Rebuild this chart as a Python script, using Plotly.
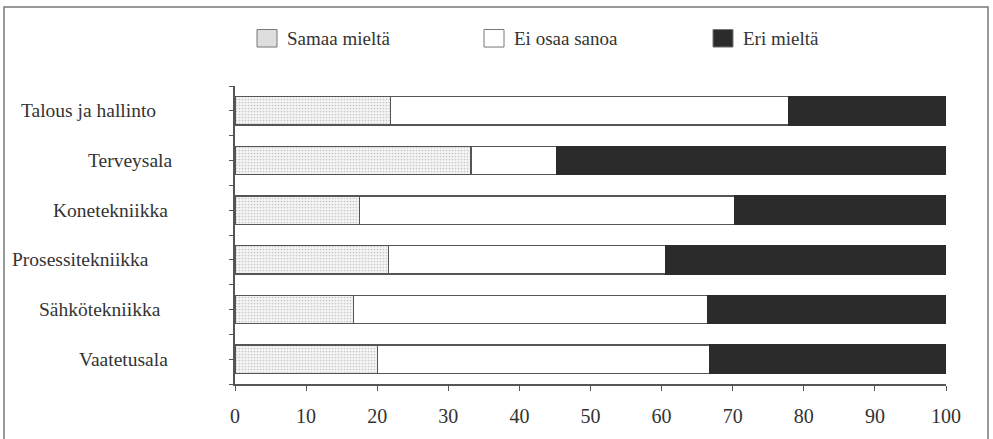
import plotly.graph_objects as go

categories = ["Talous ja hallinto", "Terveysala", "Konetekniikka",
              "Prosessitekniikka", "Sähkötekniikka", "Vaatetusala"]
samaa = [21.9, 33.2, 17.5, 21.6, 16.7, 20.0]
ei_osaa = [56.0, 12.1, 52.8, 39.0, 49.8, 46.7]
eri = [22.1, 54.7, 29.7, 39.4, 33.5, 33.3]
series_names = ["Samaa mieltä", "Ei osaa sanoa", "Eri mieltä"]
x_ticks = list(range(0, 101, 10))

W, H = 993, 439
ML, MR, MT, MB = 235, 47, 86, 47
PW, PH = W - ML - MR, H - MT - MB
FONT = "Liberation Serif"
TXT = "#333333"
EDGE = "#555555"

ypos = list(range(len(categories)))

fig = go.Figure()
fig.add_trace(go.Bar(
    y=ypos, x=samaa, orientation="h", name=series_names[0], width=0.57,
    marker=dict(color="#f4f4f4", line=dict(color=EDGE, width=1.3),
                pattern=dict(shape=".", fgcolor="#9a9a9a", bgcolor="#f4f4f4",
                             size=3, solidity=0.25)),
    showlegend=False))
fig.add_trace(go.Bar(
    y=ypos, x=ei_osaa, orientation="h", name=series_names[1], width=0.57,
    marker=dict(color="#ffffff", line=dict(color=EDGE, width=1.3)),
    showlegend=False))
fig.add_trace(go.Bar(
    y=ypos, x=eri, orientation="h", name=series_names[2], width=0.57,
    marker=dict(color="#2b2b2b", line=dict(color="#2b2b2b", width=1.3)),
    showlegend=False))

def px_to_paper_x(px):
    return (px - ML) / PW

def px_to_paper_y(py):
    return 1 - (py - MT) / PH

# category labels (centered as in the reference)
label_centers = [88, 130, 110, 80, 100, 123]
annotations = []
for i, (cat, cx) in enumerate(zip(categories, label_centers)):
    annotations.append(dict(
        text=cat, x=px_to_paper_x(cx), xref="paper", y=ypos[i], yref="y",
        xanchor="center", yanchor="middle", showarrow=False,
        font=dict(family=FONT, size=19.5, color=TXT)))

# manual legend
shapes = []
legend_boxes = [(257, 277), (484, 504), (713, 733)]
legend_fill = ["#dedede", "#ffffff", "#2b2b2b"]
for (x0, x1), fill, name in zip(legend_boxes, legend_fill, series_names):
    shapes.append(dict(type="rect", xref="paper", yref="paper",
                       x0=px_to_paper_x(x0), x1=px_to_paper_x(x1),
                       y0=px_to_paper_y(46), y1=px_to_paper_y(28),
                       fillcolor=fill, line=dict(color="#777777", width=1)))
    annotations.append(dict(
        text=name, x=px_to_paper_x(x1 + 8), xref="paper",
        y=px_to_paper_y(37), yref="paper", xanchor="left", yanchor="middle",
        showarrow=False, font=dict(family=FONT, size=19, color=TXT)))

# outer frame
shapes.append(dict(type="rect", xref="paper", yref="paper",
                   x0=px_to_paper_x(4), x1=px_to_paper_x(988),
                   y0=px_to_paper_y(460), y1=px_to_paper_y(5),
                   line=dict(color="#777777", width=1.5), fillcolor="rgba(0,0,0,0)"))

ytickvals = [v / 2 - 0.5 for v in range(2 * len(categories) + 1)]

fig.update_layout(
    width=W, height=H, barmode="stack",
    margin=dict(l=ML, r=MR, t=MT, b=MB),
    paper_bgcolor="white", plot_bgcolor="white",
    font=dict(family=FONT, color=TXT),
    xaxis=dict(range=[0, 100], tickvals=x_ticks, ticks="outside", ticklen=5,
               tickcolor=EDGE, showline=True, linecolor=EDGE, linewidth=1.5,
               showgrid=False, zeroline=False,
               tickfont=dict(family=FONT, size=20, color=TXT),
               ticklabelstandoff=8),
    yaxis=dict(range=[len(categories) - 0.5, -0.5], tickvals=ytickvals,
               showticklabels=False, ticks="outside", ticklen=4,
               tickcolor=EDGE, showline=True, linecolor=EDGE, linewidth=1.5,
               showgrid=False, zeroline=False),
    shapes=shapes, annotations=annotations,
)

fig.write_html("out.html", config={"displayModeBar": False},
               post_script="document.body.style.margin='0';document.body.style.padding='0';")
